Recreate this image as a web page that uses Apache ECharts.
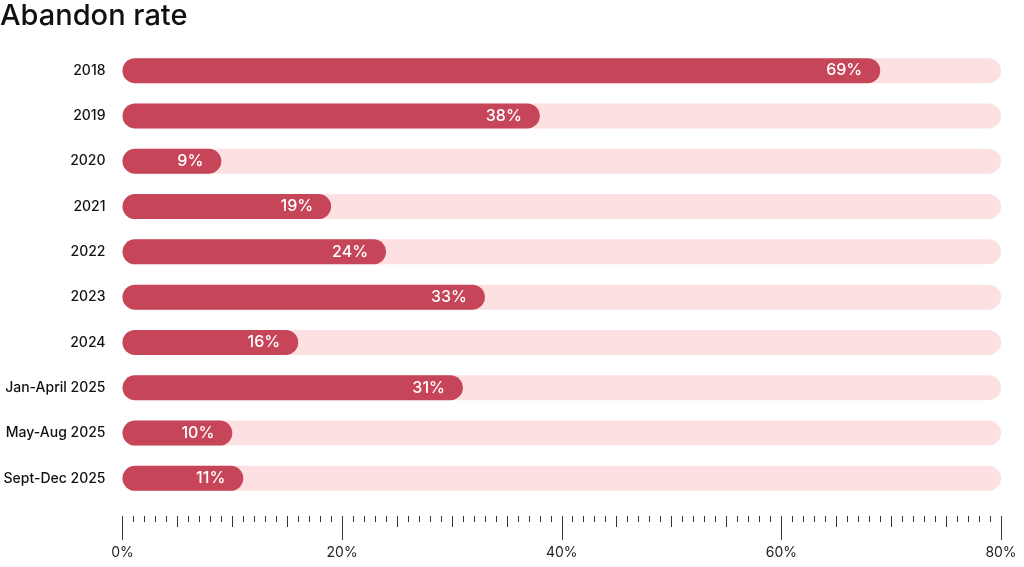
<!DOCTYPE html>
<html>
<head>
    <meta charset="utf-8">
    <title>Abandon rate</title>
    <script src="https://cdn.jsdelivr.net/npm/echarts@6/dist/echarts.min.js"></script>
    <style>
        html, body { margin: 0; padding: 0; background: #fff; }
    </style>
</head>
<body>

<div id="main" style="width: 1024px;height:567px;"></div>

<script type="text/javascript">

    // data
    var periods = ['2018', '2019', '2020', '2021', '2022', '2023', '2024',
        'Jan-April 2025', 'May-Aug 2025', 'Sept-Dec 2025'];
    var abandonRate = [69, 38, 9, 19, 24, 33, 16, 31, 10, 11];
    var axisMax = 80;

    var font = 'Inter, "Noto Sans", sans-serif';

    var myChart = echarts.init(document.getElementById('main'));

    var option = {
        animation: false,
        title: {
            text: 'Abandon rate',
            left: 0,
            top: 2,
            padding: 0,
            textStyle: {
                fontFamily: font,
                fontSize: 29,
                fontWeight: 500,
                color: '#111'
            }
        },
        grid: {
            left: 122.5,
            right: 23,
            top: 48,
            bottom: 66
        },
        xAxis: [
            {
                // long ticks + labels every 20%
                type: 'value',
                min: 0,
                max: axisMax,
                interval: 20,
                offset: 15,
                axisLine: { show: false },
                splitLine: { show: false },
                axisTick: {
                    show: true,
                    length: 24,
                    lineStyle: { color: '#333', width: 1 }
                },
                axisLabel: {
                    margin: 30,
                    fontFamily: font,
                    fontSize: 14,
                    color: '#222',
                    formatter: '{value}%'
                }
            },
            {
                // medium ticks every 5%, small ones every 1%
                type: 'value',
                min: 0,
                max: axisMax,
                interval: 5,
                offset: 15,
                position: 'bottom',
                axisLine: { show: false },
                splitLine: { show: false },
                axisLabel: { show: false },
                axisTick: {
                    show: true,
                    length: 11,
                    lineStyle: { color: '#333', width: 1 }
                },
                minorTick: {
                    show: true,
                    splitNumber: 5,
                    length: 6,
                    lineStyle: { color: '#333', width: 1 }
                },
                minorSplitLine: { show: false }
            }
        ],
        yAxis: {
            type: 'category',
            inverse: true,
            data: periods,
            axisLine: { show: false },
            axisTick: { show: false },
            axisLabel: {
                margin: 17,
                fontFamily: font,
                fontSize: 14,
                fontWeight: 500,
                color: '#111'
            }
        },
        series: [
            {
                name: 'Abandon rate',
                type: 'bar',
                xAxisIndex: 0,
                barWidth: 25,
                data: abandonRate,
                itemStyle: {
                    color: '#C64558',
                    borderRadius: 12.5
                },
                showBackground: true,
                backgroundStyle: {
                    color: '#FDE1E2',
                    borderRadius: 12.5
                },
                label: {
                    show: true,
                    position: 'insideRight',
                    distance: 18,
                    fontFamily: font,
                    fontSize: 16,
                    fontWeight: 500,
                    color: '#fff',
                    formatter: '{c}%'
                }
            }
        ]
    };

    myChart.setOption(option);

</script>
</body>
</html>
